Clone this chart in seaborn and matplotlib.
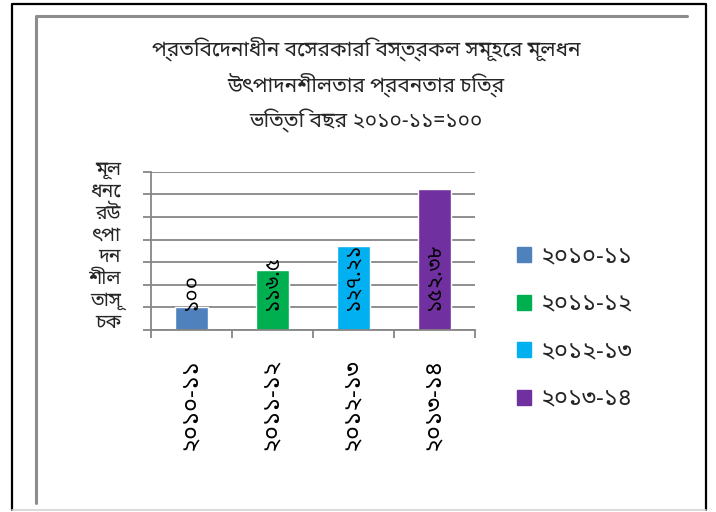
"""
Capital productivity trend of the surveyed private textile mills
(base year 2010-11 = 100), redrawn as a seaborn bar chart.
"""

import unicodedata
import warnings

import matplotlib
matplotlib.use("Agg")
import matplotlib.pyplot as plt
from matplotlib.lines import Line2D
from matplotlib.patches import Patch
import seaborn as sns

warnings.filterwarnings("ignore")

# Data
title_lines = [
    "প্রতিবেদনাধীন বেসরকারি বস্ত্রকল সমূহের মূলধন",
    "উৎপাদনশীলতার প্রবনতার চিত্র",
    "ভিত্তি বছর ২০১০-১১=১০০",
]
years = ["২০১০-১১", "২০১১-১২", "২০১২-১৩", "২০১৩-১৪"]
index_values = [100.0, 116.5, 127.21, 152.38]
value_labels = ["১০০", "১১৬.৫", "১২৭.২১", "১৫২.৩৮"]
ylabel_text = "মূলধনের উৎপাদনশীলতা সূচক"
bar_colors = ["#4F81BD", "#00B050", "#00B0F0", "#7030A0"]

# Styling
sns.set_style("white")
plt.rcParams["font.family"] = ["Noto Sans Bengali", "Lohit Bengali", "DejaVu Sans"]
grid_grey = "#868686"

W, H = 716, 512
fig = plt.figure(figsize=(W / 100, H / 100), dpi=100)


def fx(px):
    return px / W


def fy(py):
    return 1 - py / H


def clusters(text):
    """Split Bengali text into rough letter clusters (base + marks/conjuncts)."""
    out = []
    join_next = False
    for ch in text:
        if ch == " ":
            continue
        if out and (join_next or unicodedata.category(ch).startswith("M")):
            out[-1] += ch
        else:
            out.append(ch)
        join_next = ch == "\u09cd"  # virama glues the next consonant
    return out


# slide-like frame around the chart
fig.add_artist(Line2D([fx(12), fx(12), fx(706), fx(706)],
                      [fy(510), fy(4), fy(4), fy(510)],
                      color="black", linewidth=1.6))
fig.add_artist(Line2D([fx(12), fx(706)], [fy(510), fy(510)],
                      color="#d4d4d4", linewidth=1.2))
fig.add_artist(Line2D([fx(36), fx(36), fx(687)],
                      [fy(503), fy(16), fy(16)],
                      color="#8c8c8c", linewidth=2.2))

ax = fig.add_axes([fx(151), fy(330), fx(475) - fx(151), fy(171.7) - fy(330)])

sns.barplot(x=years, y=index_values, hue=years, palette=bar_colors,
            width=0.4, legend=False, ax=ax, saturation=1)

ax.set_xlim(-0.5, len(years) - 0.5)
ax.set_ylim(90, 160)
ax.set_yticks(range(90, 161, 10))
ax.set_yticklabels([])
ax.yaxis.grid(True, color=grid_grey, linewidth=1.3)
ax.set_axisbelow(True)

for side in ["top", "right"]:
    ax.spines[side].set_visible(False)
for side in ["left", "bottom"]:
    ax.spines[side].set_color(grid_grey)
    ax.spines[side].set_linewidth(1.3)

ax.tick_params(axis="y", length=6, width=1.3, color=grid_grey, left=True)
ax.set_xticks(range(len(years)))
ax.set_xticklabels(years, rotation=90, fontsize=17, color="black")
ax.tick_params(axis="x", which="major", length=0, pad=20)
ax.set_xticks([i - 0.5 for i in range(len(years) + 1)], minor=True)
ax.tick_params(axis="x", which="minor", length=6, width=1.3,
               color=grid_grey, bottom=True)
ax.set_xlabel("")

# value labels written upward from just below the 100 line
for i, lab in enumerate(value_labels):
    ax.text(i, 99, lab, rotation=90, ha="center", va="bottom",
            fontsize=15, color="black")

# y-axis caption wrapped into a narrow column
parts = clusters(ylabel_text)
wrapped = "\n".join("".join(parts[k:k + 2]) for k in range(0, len(parts), 2))
fig.text(fx(121), fy(160), wrapped, ha="right", va="top",
         multialignment="right", fontsize=14, linespacing=1.12)

fig.text(fx(366), fy(36), "\n".join(title_lines), ha="center", va="top",
         fontsize=15, linespacing=1.62)

handles = [Patch(facecolor=c, edgecolor=c) for c in bar_colors]
fig.legend(handles, years, loc="upper left", bbox_to_anchor=(fx(517), fy(245)),
           frameon=False, fontsize=17, handlelength=0.6, handleheight=0.6,
           handletextpad=0.4, labelspacing=1.0, borderpad=0,
           borderaxespad=0)

fig.savefig("out.png", dpi=100)
